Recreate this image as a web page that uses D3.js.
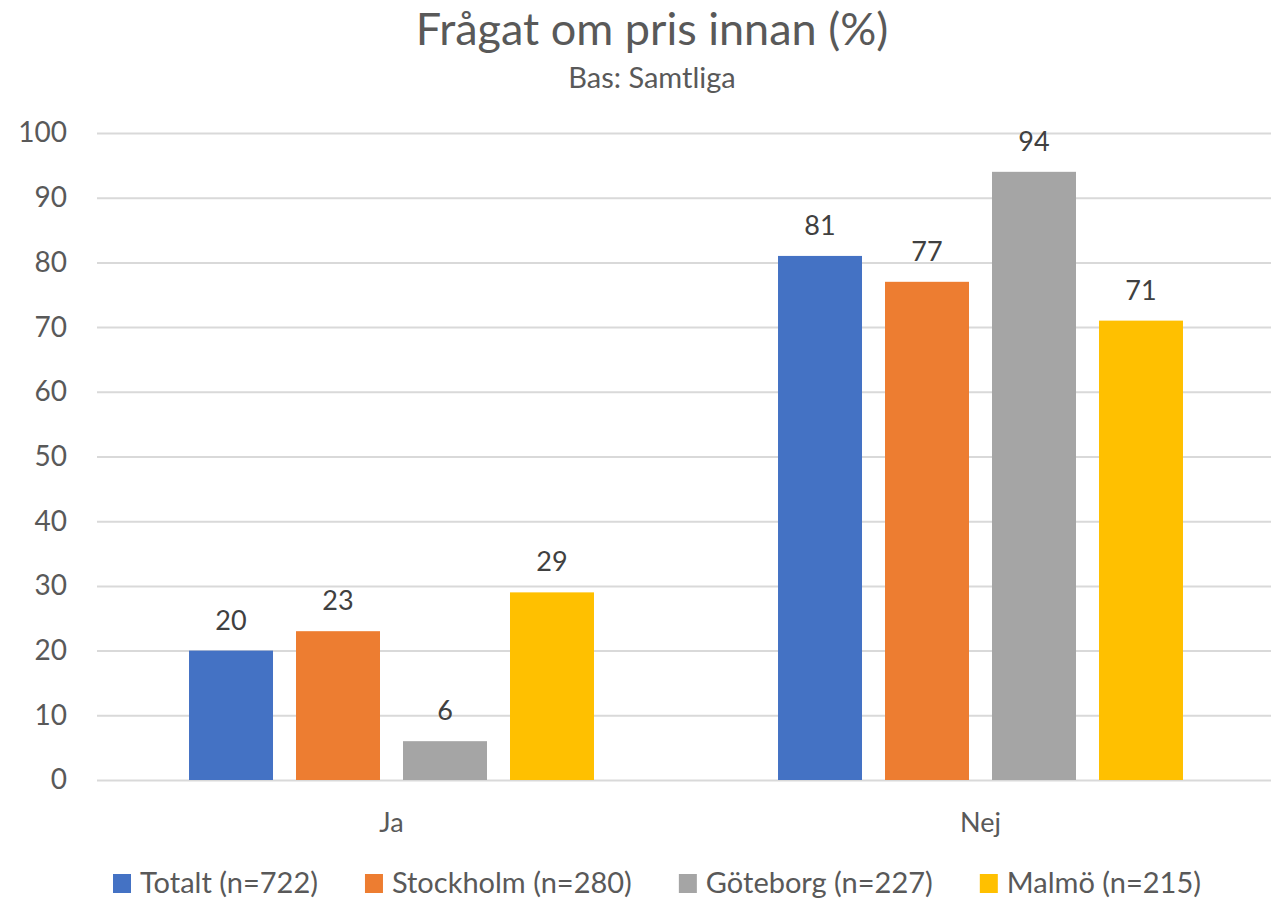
<!DOCTYPE html>
<html>
<head>
<meta charset="utf-8">
<script src="https://cdn.jsdelivr.net/npm/d3@7"></script>
<style>
  html, body { margin: 0; padding: 0; background: #fff; }
  svg { display: block; font-family: Lato, "Open Sans", sans-serif; }
</style>
</head>
<body>
<svg id="chart" width="1271" height="900"></svg>
<script>
const titleText = "Frågat om pris innan (%)";
const subtitleText = "Bas: Samtliga";
const categories = ["Ja", "Nej"];
const seriesNames = ["Totalt (n=722)", "Stockholm (n=280)", "Göteborg (n=227)", "Malmö (n=215)"];
const seriesColors = ["#4472C4", "#ED7D31", "#A5A5A5", "#FFC000"];
const totaltValues = [20, 81];
const stockholmValues = [23, 77];
const goteborgValues = [6, 94];
const malmoValues = [29, 71];
const yTicks = [0, 10, 20, 30, 40, 50, 60, 70, 80, 90, 100];

const seriesValues = [totaltValues, stockholmValues, goteborgValues, malmoValues];
const data = categories.map((c, ci) => ({
  category: c,
  values: seriesNames.map((s, si) => ({ series: s, color: seriesColors[si], value: seriesValues[si][ci] }))
}));

const svg = d3.select("#chart");
const textColor = "#595959";

const x0 = d3.scaleBand().domain(categories).range([97, 1275]).paddingInner(0).paddingOuter(0);
const x1 = d3.scaleBand().domain(seriesNames).range([0, x0.bandwidth()]).paddingInner(0.215).paddingOuter(0.86);
const y = d3.scaleLinear().domain([0, 100]).range([780, 133]);

// Title
svg.append("text").attr("x", 652).attr("y", 45).attr("text-anchor", "middle")
  .attr("font-size", 45).attr("fill", textColor).text(titleText);
svg.append("text").attr("x", 652).attr("y", 88).attr("text-anchor", "middle")
  .attr("font-size", 29).attr("fill", textColor).text(subtitleText);

// Gridlines
const yAxis = d3.axisLeft(y).tickValues(yTicks).tickSize(-(1275 - 97)).tickPadding(30);
const gy = svg.append("g").attr("transform", "translate(97,0)").call(yAxis);
gy.select(".domain").remove();
gy.selectAll(".tick line").attr("stroke", "#D9D9D9").attr("stroke-width", 2);
gy.selectAll(".tick text").attr("font-size", 28).attr("fill", textColor)
  .attr("font-family", "Lato, 'Open Sans', sans-serif");

// Bars
const groups = svg.append("g").selectAll("g").data(data).join("g")
  .attr("transform", d => `translate(${x0(d.category)},0)`);
groups.selectAll("rect").data(d => d.values).join("rect")
  .attr("x", d => x1(d.series))
  .attr("y", d => y(d.value))
  .attr("width", x1.bandwidth())
  .attr("height", d => y(0) - y(d.value))
  .attr("fill", d => d.color);
groups.selectAll("text.lbl").data(d => d.values).join("text")
  .attr("class", "lbl")
  .attr("x", d => x1(d.series) + x1.bandwidth() / 2)
  .attr("y", d => y(d.value) - 21)
  .attr("text-anchor", "middle")
  .attr("font-size", 27).attr("fill", "#404040")
  .text(d => d.value);

// Category axis
const xAxis = d3.axisBottom(x0).tickSize(0).tickPadding(0);
const gx = svg.append("g").attr("transform", "translate(0,780)").call(xAxis);
gx.select(".domain").remove();
gx.selectAll(".tick text").attr("font-size", 27).attr("fill", textColor)
  .attr("font-family", "Lato, 'Open Sans', sans-serif")
  .attr("dy", null).attr("y", 52);

// Legend
const legend = svg.append("g");
const items = legend.selectAll("g").data(seriesNames).join("g");
items.append("rect").attr("width", 18).attr("height", 19).attr("y", 874)
  .attr("fill", (d, i) => seriesColors[i]);
items.append("text").attr("x", 27).attr("y", 893).attr("font-size", 29)
  .attr("fill", textColor).text(d => d);
let widths = [];
items.each(function() { widths.push(27 + d3.select(this).select("text").node().getComputedTextLength()); });
const gap = 47;
const total = d3.sum(widths) + gap * (widths.length - 1);
let cx = 657 - total / 2;
items.attr("transform", (d, i) => { const t = `translate(${cx},0)`; cx += widths[i] + gap; return t; });
</script>
</body>
</html>
